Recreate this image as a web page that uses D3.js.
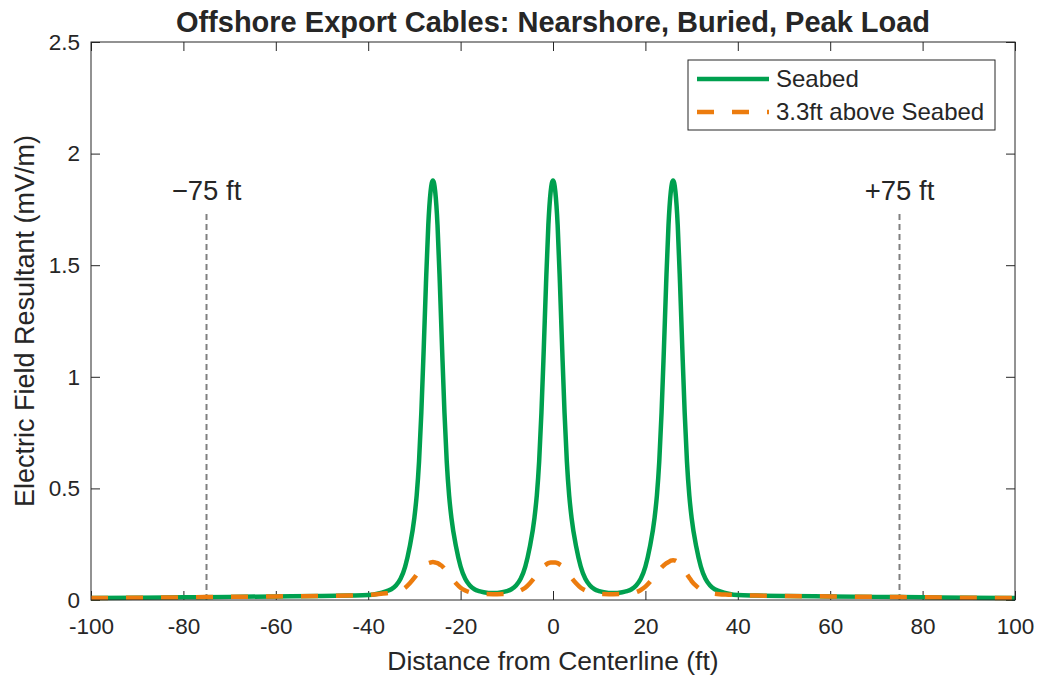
<!DOCTYPE html>
<html>
<head>
<meta charset="utf-8">
<script src="https://cdn.jsdelivr.net/npm/d3@7"></script>
<style>
  body { margin: 0; background: #fff; }
  text { font-family: "Liberation Sans", Arial, sans-serif; fill: #262626; }
</style>
</head>
<body>
<div id="chart"></div>
<script>
// distance from centerline (ft)
var distance = [-100,-90,-80,-70,-60,-50,-44,-40,-38,-36,-35,-34,-33,-32,-31,-30,-29.5,-29,-28.5,-28,-27.5,-27,-26.5,-26,-25.5,-25,-24.5,-24,-23.5,-23,-22.5,-22,-21,-20,-19,-18,-17,-16,-15,-13,-11,-10,-9,-8,-7,-6,-5,-4,-3.5,-3,-2.5,-2,-1.5,-1,-0.5,0,0.5,1,1.5,2,2.5,3,3.5,4,5,6,7,8,9,10,11,13,15,16,17,18,19,20,21,22,22.5,23,23.5,24,24.5,25,25.5,26,26.5,27,27.5,28,28.5,29,29.5,30,31,32,33,34,35,36,38,40,44,50,60,70,80,90,100];

// electric field at seabed (mV/m)
var seabed = [0.009,0.010,0.012,0.014,0.016,0.018,0.020,0.022,0.028,0.040,0.048,0.065,0.095,0.15,0.24,0.37,0.47,0.62,0.84,1.12,1.42,1.68,1.83,1.88,1.83,1.68,1.42,1.12,0.84,0.62,0.47,0.37,0.24,0.15,0.095,0.065,0.048,0.040,0.035,0.031,0.035,0.040,0.048,0.065,0.095,0.15,0.24,0.37,0.47,0.62,0.84,1.12,1.42,1.68,1.83,1.88,1.83,1.68,1.42,1.12,0.84,0.62,0.47,0.37,0.24,0.15,0.095,0.065,0.048,0.040,0.035,0.031,0.035,0.040,0.048,0.065,0.095,0.15,0.24,0.37,0.47,0.62,0.84,1.12,1.42,1.68,1.83,1.88,1.83,1.68,1.42,1.12,0.84,0.62,0.47,0.37,0.24,0.15,0.095,0.065,0.048,0.040,0.028,0.022,0.020,0.018,0.016,0.014,0.012,0.010,0.009];

// electric field 3.3 ft above seabed (mV/m)
var above = [0.009,0.010,0.012,0.014,0.016,0.018,0.020,0.023,0.026,0.030,0.033,0.036,0.043,0.055,0.075,0.10,0.114,0.128,0.141,0.152,0.159,0.165,0.168,0.170,0.168,0.165,0.159,0.152,0.141,0.128,0.114,0.10,0.075,0.055,0.043,0.035,0.030,0.028,0.027,0.026,0.027,0.028,0.030,0.035,0.043,0.055,0.075,0.10,0.114,0.128,0.141,0.152,0.159,0.165,0.168,0.168,0.168,0.165,0.159,0.152,0.141,0.128,0.114,0.10,0.075,0.055,0.043,0.035,0.030,0.028,0.027,0.026,0.027,0.028,0.030,0.035,0.045,0.06,0.082,0.108,0.122,0.135,0.146,0.156,0.164,0.170,0.176,0.178,0.176,0.170,0.162,0.150,0.133,0.115,0.100,0.085,0.063,0.047,0.037,0.031,0.028,0.026,0.024,0.022,0.020,0.018,0.016,0.014,0.012,0.010,0.009];

var xTicks = [-100,-80,-60,-40,-20,0,20,40,60,80,100];
var yTicks = [0,0.5,1,1.5,2,2.5];
var markers = [-75, 75];
var markerLabels = ["\u221275 ft", "+75 ft"];
var seriesNames = ["Seabed", "3.3ft above Seabed"];

var W = 1042, H = 679;
var margin = {top: 42, right: 27, bottom: 79, left: 91};
var width = W - margin.left - margin.right,
    height = H - margin.top - margin.bottom;

var svg = d3.select("#chart").append("svg")
    .attr("width", W)
    .attr("height", H);

var x = d3.scaleLinear().domain([-100, 100]).range([0, width]);
var y = d3.scaleLinear().domain([0, 2.5]).range([height, 0]);

var g = svg.append("g")
    .attr("transform", "translate(" + margin.left + "," + margin.top + ")");

// axes, ticks pointing inward (box style)
var axisColor = "#262626";
function styleAxis(sel) {
  sel.select(".domain").remove();
  sel.selectAll(".tick line").attr("stroke", axisColor).attr("stroke-width", 1);
  sel.selectAll(".tick text").style("font-size", "22.5px").attr("fill", axisColor);
}
g.append("g")
    .attr("transform", "translate(0," + height + ")")
    .call(d3.axisBottom(x).tickValues(xTicks).tickSizeInner(-9).tickPadding(18).tickFormat(function(d) { return String(d); }))
    .call(styleAxis);
g.append("g")
    .call(d3.axisTop(x).tickValues(xTicks).tickSizeInner(-9).tickFormat(""))
    .call(styleAxis);
g.append("g")
    .call(d3.axisLeft(y).tickValues(yTicks).tickSizeInner(-9).tickPadding(11).tickFormat(function(d) { return d; }))
    .call(styleAxis);
g.append("g")
    .attr("transform", "translate(" + width + ",0)")
    .call(d3.axisRight(y).tickValues(yTicks).tickSizeInner(-9).tickFormat(""))
    .call(styleAxis);

// vertical marker lines
g.selectAll(".marker")
    .data(markers)
  .enter().append("line")
    .attr("x1", function(d) { return x(d); })
    .attr("x2", function(d) { return x(d); })
    .attr("y1", y(0))
    .attr("y2", y(1.74))
    .attr("stroke", "#808080")
    .attr("stroke-width", 2)
    .attr("stroke-dasharray", "6,4");

g.selectAll(".markerLabel")
    .data(markers)
  .enter().append("text")
    .attr("x", function(d) { return x(d); })
    .attr("y", y(1.79))
    .attr("text-anchor", "middle")
    .style("font-size", "27.5px")
    .attr("fill", "#000")
    .text(function(d, i) { return markerLabels[i]; });

var line = d3.line()
    .x(function(d) { return x(d[0]); })
    .y(function(d) { return y(d[1]); })
    .curve(d3.curveMonotoneX);

var green = "#00a04f", orange = "#ec7c0e";

g.append("path")
    .datum(distance.map(function(d, i) { return [d, seabed[i]]; }))
    .attr("fill", "none")
    .attr("stroke", green)
    .attr("stroke-width", 4.5)
    .attr("stroke-linejoin", "round")
    .attr("d", line);

g.append("path")
    .datum(distance.map(function(d, i) { return [d, above[i]]; }))
    .attr("fill", "none")
    .attr("stroke", orange)
    .attr("stroke-width", 4.5)
    .attr("stroke-dasharray", "17,18")
    .attr("d", line);

// axis frame
g.append("rect")
    .attr("width", width)
    .attr("height", height)
    .attr("fill", "none")
    .attr("stroke", axisColor)
    .attr("stroke-width", 1);

// legend
var lg = svg.append("g").attr("transform", "translate(688,60)");
lg.append("rect")
    .attr("width", 307).attr("height", 70)
    .attr("fill", "#fff").attr("stroke", axisColor).attr("stroke-width", 1);
[green, orange].forEach(function(c, i) {
  lg.append("line")
    .attr("x1", 9).attr("x2", 81)
    .attr("y1", 19 + i * 33).attr("y2", 19 + i * 33)
    .attr("stroke", c).attr("stroke-width", 4.5)
    .attr("stroke-dasharray", i ? "17,18" : null);
  lg.append("text")
    .attr("x", 88).attr("y", 27 + i * 33)
    .style("font-size", "24px")
    .attr("fill", "#000")
    .text(seriesNames[i]);
});

// title and axis labels
svg.append("text")
    .attr("x", margin.left + width / 2).attr("y", 32)
    .attr("text-anchor", "middle")
    .style("font-size", "29px").style("font-weight", "bold")
    .attr("fill", "#000")
    .text("Offshore Export Cables: Nearshore, Buried, Peak Load");

svg.append("text")
    .attr("x", margin.left + width / 2).attr("y", 670)
    .attr("text-anchor", "middle")
    .style("font-size", "26.5px")
    .text("Distance from Centerline (ft)");

svg.append("text")
    .attr("transform", "translate(34," + (margin.top + height / 2) + ") rotate(-90)")
    .attr("text-anchor", "middle")
    .style("font-size", "27px")
    .text("Electric Field Resultant (mV/m)");
</script>
</body>
</html>
